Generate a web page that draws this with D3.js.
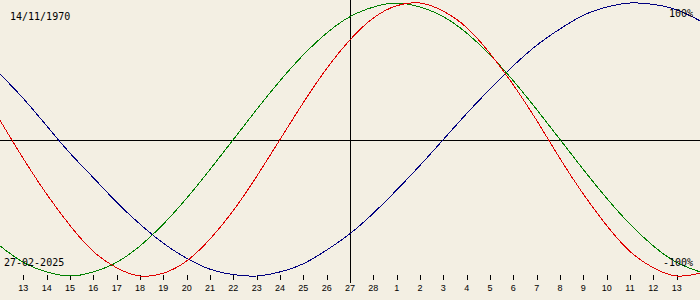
<!DOCTYPE html>
<html>
<head>
<meta charset="utf-8">
<script src="https://cdn.jsdelivr.net/npm/d3@7"></script>
<style>
  body { margin: 0; background: #f3efe3; }
  svg { display: block; }
  text { font-family: "DejaVu Sans Mono", monospace; fill: #000; }
</style>
</head>
<body>
<svg id="chart" width="700" height="300"></svg>
<script>
// day offsets around the selected date (27 Feb 2025)
const days = d3.range(-15, 16);
// tick labels (day of month), 13 Feb .. 13 Mar
const tickLabels = [13,14,15,16,17,18,19,20,21,22,23,24,25,26,27,28,1,2,3,4,5,6,7,8,9,10,11,12,13];
const tickDays = d3.range(-14, 15);

// cycle values in percent, one per day
const physical = [14,-14,-40,-63,-82,-94,-100,-98,-89,-73,-52,-27,0,27,52,73,89,98,100,94,82,63,40,14,-14,-40,-63,-82,-94,-100,-98];
const emotional = [-78,-90,-97,-100,-97,-90,-78,-62,-43,-22,0,22,43,62,78,90,97,100,97,90,78,62,43,22,0,-22,-43,-62,-78,-90,-97];
const intellectual = [48,30,10,-10,-28,-46,-62,-76,-87,-95,-99,-100,-97,-91,-81,-69,-54,-37,-19,0,19,37,54,69,81,91,97,100,99,95,87];

const birthLabel = "14/11/1970";
const dateLabel = "27-02-2025";

const svg = d3.select("#chart");
const W = 700, H = 300;

const x = d3.scaleLinear().domain([-15, 15]).range([0, W]);
const y = d3.scaleLinear().domain([-100, 100]).range([276, 3]);

// axes lines
svg.append("line")
  .attr("x1", 0).attr("x2", W)
  .attr("y1", Math.round(y(0)) + 0.5).attr("y2", Math.round(y(0)) + 0.5)
  .attr("stroke", "#000");
svg.append("line")
  .attr("x1", Math.round(x(0)) + 0.5).attr("x2", Math.round(x(0)) + 0.5)
  .attr("y1", 0).attr("y2", 283)
  .attr("stroke", "#000");

// day ticks along the bottom
const ticks = svg.append("g");
ticks.selectAll("line")
  .data(tickDays.filter(d => d !== 0))
  .join("line")
  .attr("x1", d => Math.round(x(d)) + 0.5)
  .attr("x2", d => Math.round(x(d)) + 0.5)
  .attr("y1", 275).attr("y2", 280)
  .attr("stroke", "#000");
ticks.selectAll("text")
  .data(tickDays)
  .join("text")
  .attr("x", d => x(d))
  .attr("y", 291)
  .attr("text-anchor", "middle")
  .style("font-family", "'Liberation Sans', Arial, sans-serif")
  .style("font-size", "9px")
  .text((d, i) => tickLabels[i]);

// the three curves
const line = d3.line()
  .x((d, i) => x(days[i]))
  .y(d => y(d))
  .curve(d3.curveNatural);

const series = [
  {values: intellectual, color: "#000080"},
  {values: emotional, color: "#008000"},
  {values: physical, color: "#e00000"}
];
svg.selectAll("path.cycle")
  .data(series)
  .join("path")
  .attr("class", "cycle")
  .attr("d", d => line(d.values))
  .attr("fill", "none")
  .attr("stroke", d => d.color)
  .attr("stroke-width", 1)
  .attr("shape-rendering", "crispEdges");

// labels
svg.append("text").attr("x", 10).attr("y", 20).style("font-size", "10px").text(birthLabel);
svg.append("text").attr("x", 4).attr("y", 266).style("font-size", "10px").text(dateLabel);
svg.append("text").attr("x", 693).attr("y", 17).attr("text-anchor", "end").style("font-size", "10px").text("100%");
svg.append("text").attr("x", 693).attr("y", 266).attr("text-anchor", "end").style("font-size", "10px").text("-100%");
</script>
</body>
</html>
